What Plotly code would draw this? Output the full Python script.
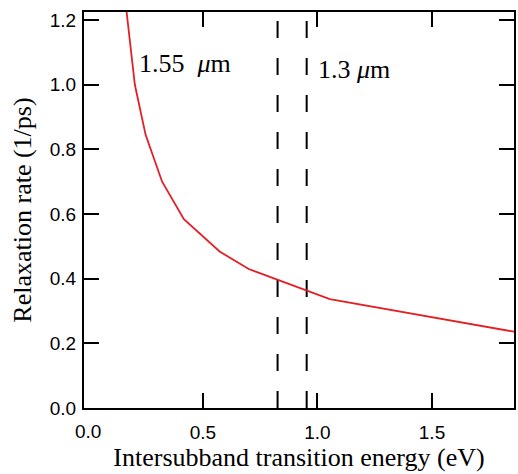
import plotly.graph_objects as go

# data
energy = [0.155, 0.203, 0.25, 0.322, 0.417, 0.573, 0.70, 1.054, 1.858]
rate = [1.30, 1.00, 0.845, 0.70, 0.584, 0.484, 0.43, 0.337, 0.236]
marker_energies = [0.826, 0.953]
marker_labels = ["1.55&nbsp;&nbsp;<i>μ</i>m", "1.3 <i>μ</i>m"]
label_pos_x = [0.213, 0.993]
label_pos_y = [1.066, 1.046]
x_range = [-0.019, 1.858]
y_range = [0, 1.225]
x_ticks = [0.5, 1.0, 1.5]
x_origin_label = "0.0"
y_ticks = [0.0, 0.2, 0.4, 0.6, 0.8, 1.0, 1.2]

fig = go.Figure()
for xv in marker_energies:
    fig.add_trace(go.Scatter(x=[xv, xv], y=[y_range[0], y_range[1]], mode="lines",
                             line=dict(color="black", width=2, dash="17px,20px"),
                             showlegend=False, hoverinfo="skip"))
fig.add_trace(go.Scatter(x=energy, y=rate, mode="lines",
                         line=dict(color="#e41f26", width=1.8),
                         showlegend=False))

for t, xv, yv in zip(marker_labels, label_pos_x, label_pos_y):
    fig.add_annotation(x=xv, y=yv, text=t, showarrow=False, xanchor="left", yanchor="middle",
                       font=dict(family="Liberation Serif", size=26, color="black"))

tickfont = dict(family="Liberation Sans", size=19, color="black")
# label for the origin of x axis (no tick mark drawn there in the original)
fig.add_annotation(x=0.0, y=0, yref="paper", yshift=-11, text=x_origin_label, showarrow=False,
                   xanchor="center", yanchor="top", font=tickfont)

axis_common = dict(showline=True, linewidth=2, linecolor="black", mirror="ticks",
                   ticks="inside", ticklen=15, tickwidth=2, tickcolor="black",
                   showgrid=False, zeroline=False, tickfont=tickfont)
fig.update_xaxes(range=x_range, tickvals=x_ticks, tickformat=".1f", ticklabelstandoff=6,
                 title=dict(text="Intersubband transition energy (eV)",
                            font=dict(family="Liberation Serif", size=26, color="black"),
                            standoff=6),
                 **axis_common)
fig.update_yaxes(range=y_range, tickvals=y_ticks, tickformat=".1f", ticklabelstandoff=2,
                 title=dict(text="Relaxation rate (1/ps)",
                            font=dict(family="Liberation Serif", size=26, color="black"),
                            standoff=11),
                 **axis_common)
fig.update_layout(width=518, height=474, margin=dict(l=84, r=2, t=12, b=66),
                  plot_bgcolor="white", paper_bgcolor="white")
fig.write_html("out.html")
